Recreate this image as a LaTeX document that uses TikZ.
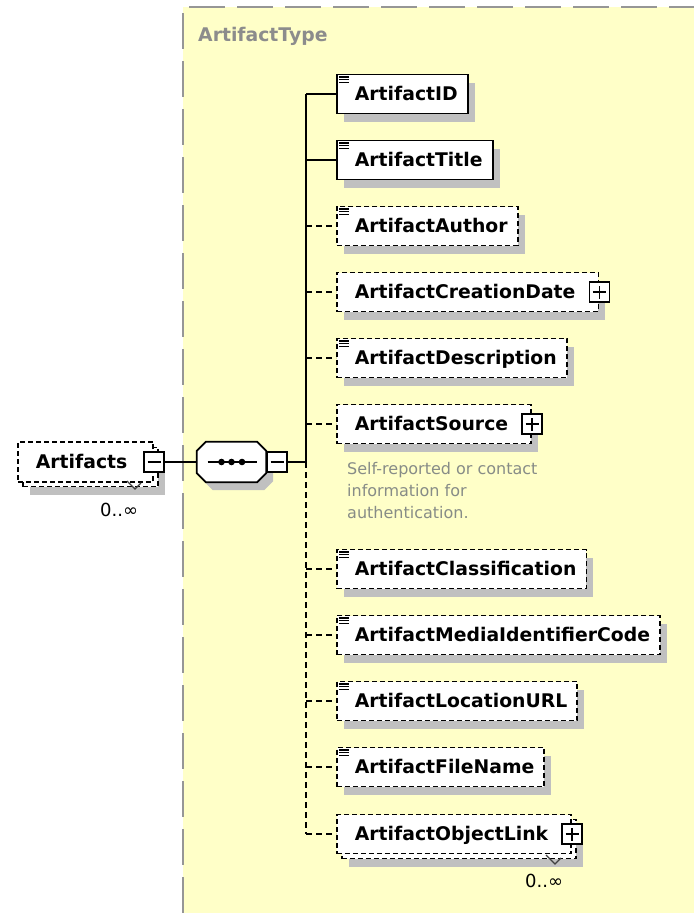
\documentclass[tikz,border=0pt]{standalone}
\usepackage{fontspec}
\setmainfont{DejaVu Sans}
\usetikzlibrary{shadows,calc}
\definecolor{bgyellow}{RGB}{255,255,200}
\definecolor{shadowgray}{RGB}{192,192,192}
\definecolor{framegray}{RGB}{150,150,150}
\definecolor{annotgray}{RGB}{135,140,135}
\definecolor{titlegray}{RGB}{140,140,140}
\tikzset{
  elfont/.style={font=\bfseries\fontsize{18.8}{22}\selectfont},
  elem/.style={draw, line width=1.8pt, fill=white, minimum height=39pt,
    inner xsep=10pt, inner ysep=0pt, anchor=west, elfont,
    text height=13.7pt, text depth=0pt},
  opt/.style={dash pattern=on 5pt off 3pt},
  shd/.style={drop shadow={shadow xshift=7pt, shadow yshift=-8pt, fill=shadowgray, opacity=1}},
  btn/.style={draw, line width=1.6pt, fill=white, minimum width=20pt,
    minimum height=20pt, inner sep=0pt},
  plusbtn/.style={btn, path picture={
    \draw[line width=1.5pt] ($(path picture bounding box.center)+(-6.5pt,0pt)$) -- ++(13pt,0pt);
    \draw[line width=1.5pt] ($(path picture bounding box.center)+(0pt,-6.5pt)$) -- ++(0pt,13pt);}},
  minusbtn/.style={btn, path picture={
    \draw[line width=1.5pt] ($(path picture bounding box.center)+(-6.5pt,0pt)$) -- ++(13pt,0pt);}},
  conn/.style={line width=1.7pt},
  optconn/.style={conn, dash pattern=on 6pt off 4pt},
  frameline/.style={framegray, line width=2pt, dash pattern=on 36pt off 12pt, dash phase=42pt},
  multfont/.style={font=\fontsize{18}{20}\selectfont},
  chev/.style={draw=darkgray, line width=1.2pt},
}
\newcommand\docicon[1]{%
  \draw[line width=1.2pt] ([shift={(3pt,-3.3pt)}]#1.north west) -- ++(10pt,0pt);
  \draw[line width=1.2pt] ([shift={(3pt,-6pt)}]#1.north west) -- ++(10pt,0pt);
  \draw[line width=1.2pt] ([shift={(3pt,-8.7pt)}]#1.north west) -- ++(10pt,0pt);}
\begin{document}
\begin{tikzpicture}[x=1pt,y=-1pt]
\useasboundingbox (0,0) rectangle (694,913);
% type frame
\fill[bgyellow] (183,7) rectangle (694,913);
\draw[frameline] (183,7) -- (694,7);
\draw[frameline] (183,7) -- (183,913);
\node[anchor=base west, elfont, text=titlegray, inner sep=0pt] (typename) at (198,41.5) {ArtifactType};

% Artifacts (repeating element)
\node[elem, opt, shd] (artback) at (22,467) {\hspace*{8pt}\phantom{Artifacts}\hspace*{16pt}};
\node[elem, opt, minimum height=40pt] (art) at (17,462) {\hspace*{8pt}Artifacts\hspace*{16pt}};
\node[minusbtn] (artbtn) at (art.east) {};
\draw[chev] (127,481) -- (135,489) -- (141,483);
\node[anchor=base west, multfont, inner sep=0pt] (artmult) at (100,516) {0..∞};

% sequence compositor
\node[minimum width=69pt, minimum height=40pt, inner sep=0pt] (seq) at (231.5,462) {};
\filldraw[line width=1.8pt, fill=white, shd]
  ($(seq.north west)+(9,0)$) -- ($(seq.north east)+(-9,0)$) -- ($(seq.north east)+(0,9)$)
  -- ($(seq.south east)+(0,-9)$) -- ($(seq.south east)+(-9,0)$) -- ($(seq.south west)+(9,0)$)
  -- ($(seq.south west)+(0,-9)$) -- ($(seq.north west)+(0,9)$) -- cycle;
\draw[line width=1.8pt] ($(seq.center)+(-24,0)$) -- ($(seq.center)+(25,0)$);
\fill ($(seq.center)+(-10,0)$) circle (3.3pt);
\fill ($(seq.center)+(0,0)$) circle (3.3pt);
\fill ($(seq.center)+(10.5,0)$) circle (3.3pt);
\node[minusbtn, anchor=west] (seqbtn) at (seq.east) {};
\draw[conn] (artbtn.east) -- (seq.west);

% trunk
\coordinate (tx) at (306,0);

% children
\node[elem, shd] (id) at (336,94) {\hspace*{8pt}ArtifactID};
\docicon{id}
\node[elem, shd] (title) at (336,160) {\hspace*{8pt}ArtifactTitle};
\docicon{title}
\node[elem, opt, shd] (author) at (336,226) {\hspace*{8pt}ArtifactAuthor};
\docicon{author}
\node[elem, opt, shd] (cdate) at (336,292) {\hspace*{8pt}ArtifactCreationDate\hspace*{13pt}};
\node[plusbtn] (cdatebtn) at (cdate.east) {};
\node[elem, opt, shd] (desc) at (336,358) {\hspace*{8pt}ArtifactDescription};
\docicon{desc}
\node[elem, opt, shd] (src) at (336,424) {\hspace*{8pt}ArtifactSource\hspace*{13pt}};
\node[plusbtn] (srcbtn) at (src.east) {};
\node[anchor=north west, align=left, inner sep=0pt, text=annotgray,
  font=\fontsize{16}{22}\selectfont] (srcdoc) at (347,462)
  {Self-reported or contact\\information for\\authentication.};
\node[elem, opt, shd] (cls) at (336,569) {\hspace*{8pt}ArtifactClassification};
\docicon{cls}
\node[elem, opt, shd] (media) at (336,635) {\hspace*{8pt}ArtifactMediaIdentifierCode};
\docicon{media}
\node[elem, opt, shd] (url) at (336,701) {\hspace*{8pt}ArtifactLocationURL};
\docicon{url}
\node[elem, opt, shd] (fname) at (336,767) {\hspace*{8pt}ArtifactFileName};
\docicon{fname}
\node[elem, opt, shd] (objback) at (341,839) {\hspace*{8pt}\phantom{ArtifactObjectLink}\hspace*{13pt}};
\node[elem, opt] (obj) at (336,834) {\hspace*{8pt}ArtifactObjectLink\hspace*{13pt}};
\node[plusbtn] (objbtn) at (obj.east) {};
\draw[chev] (546,855) -- (555,864) -- (561,858);
\node[anchor=base west, multfont, inner sep=0pt] (objmult) at (525,887) {0..∞};

% connectors
\draw[conn] (seqbtn.east) -- (seqbtn.east -| tx);
\draw[conn] (id.west -| tx) -- (seqbtn.east -| tx);
\draw[optconn] (seqbtn.east -| tx) -- (obj.west -| tx);
\draw[conn] (id.west -| tx) -- (id.west);
\draw[conn] (title.west -| tx) -- (title.west);
\draw[optconn] (author.west -| tx) -- (author.west);
\draw[optconn] (cdate.west -| tx) -- (cdate.west);
\draw[optconn] (desc.west -| tx) -- (desc.west);
\draw[optconn] (src.west -| tx) -- (src.west);
\draw[optconn] (cls.west -| tx) -- (cls.west);
\draw[optconn] (media.west -| tx) -- (media.west);
\draw[optconn] (url.west -| tx) -- (url.west);
\draw[optconn] (fname.west -| tx) -- (fname.west);
\draw[optconn] (obj.west -| tx) -- (obj.west);
\end{tikzpicture}
\end{document}
